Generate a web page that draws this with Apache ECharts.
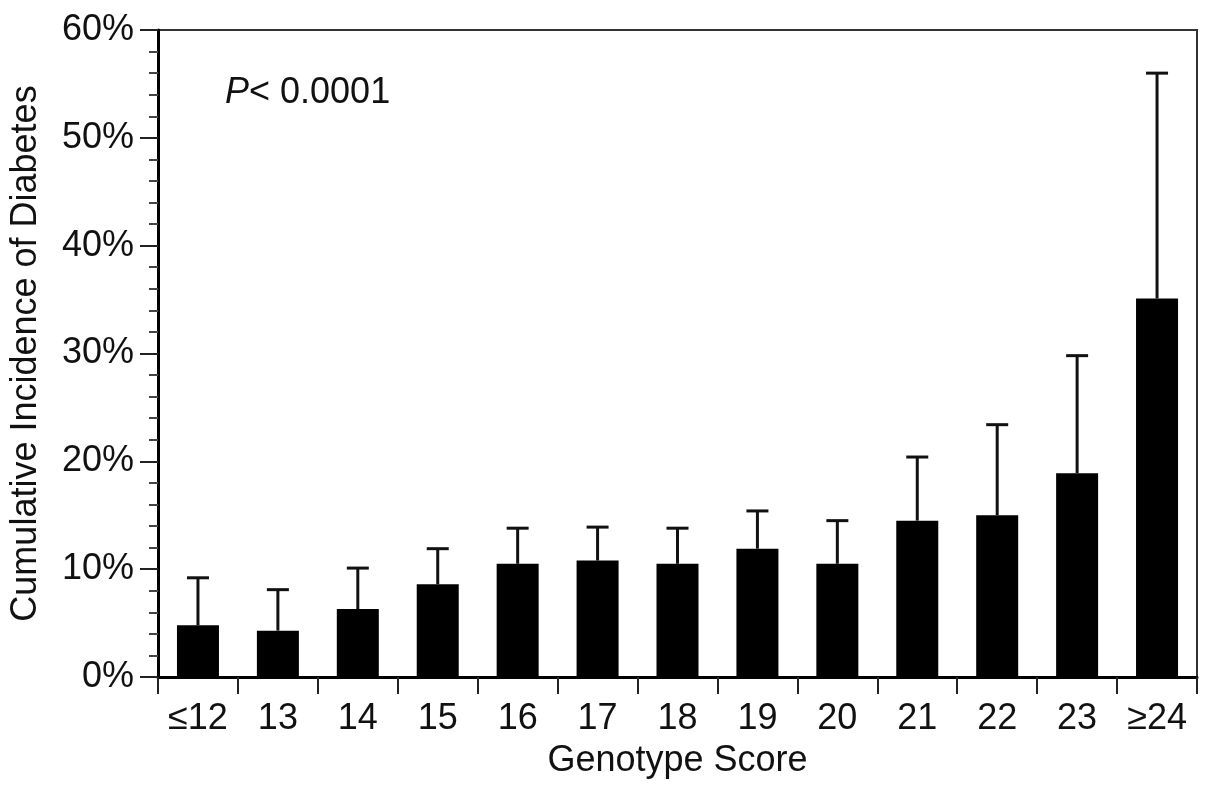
<!DOCTYPE html>
<html>
<head>
<meta charset="utf-8">
<script src="https://cdn.jsdelivr.net/npm/echarts@6/dist/echarts.min.js"></script>
<style>
  html, body { margin: 0; padding: 0; background: #fff; }
  #chart { width: 1207px; height: 788px; }
</style>
</head>
<body>
<div id="chart"></div>
<script>
'use strict';
// genotype score groups
const categories = ['≤12', '13', '14', '15', '16', '17', '18', '19', '20', '21', '22', '23', '≥24'];
// cumulative incidence (%)
const incidence = [4.8, 4.3, 6.3, 8.6, 10.5, 10.8, 10.5, 11.9, 10.5, 14.5, 15.0, 18.9, 35.1];
// upper end of the error bars (%)
const upperBound = [9.2, 8.1, 10.1, 11.9, 13.8, 13.9, 13.8, 15.4, 14.5, 20.4, 23.4, 29.8, 56.0];
const yTicks = [0, 10, 20, 30, 40, 50, 60];

{
    let dom = document.getElementById('chart');
    let myChart = echarts.init(dom);
    const font = 'Liberation Sans, Arial, Helvetica, sans-serif';

    let errData = categories.map(function (c, i) {
        return [i, incidence[i], upperBound[i]];
    });

    let option = {
        animation: false,
        backgroundColor: '#fff',
        textStyle: { fontFamily: font, color: '#111' },
        title: {
            text: '{i|P}< 0.0001',
            left: 220,
            top: 70,
            textStyle: {
                fontFamily: font,
                fontSize: 36,
                fontWeight: 'normal',
                color: '#111',
                rich: {
                    i: { fontFamily: font, fontSize: 36, fontStyle: 'italic', color: '#111' }
                }
            }
        },
        grid: {
            left: 158,
            right: 10,
            top: 30,
            bottom: 111,
            show: true,
            borderColor: '#333',
            borderWidth: 2,
            backgroundColor: 'transparent'
        },
        xAxis: {
            type: 'category',
            data: categories,
            name: 'Genotype Score',
            nameLocation: 'middle',
            nameGap: 66,
            nameTextStyle: { fontFamily: font, fontSize: 36, color: '#111' },
            axisLine: { lineStyle: { color: '#000', width: 3 } },
            axisTick: { show: true, length: 17, lineStyle: { color: '#222', width: 2 } },
            axisLabel: { fontFamily: font, fontSize: 36, color: '#111', margin: 24 },
            splitLine: { show: false }
        },
        yAxis: {
            type: 'value',
            min: yTicks[0],
            max: yTicks[yTicks.length - 1],
            interval: 10,
            name: 'Cumulative Incidence of Diabetes',
            nameLocation: 'middle',
            nameGap: 114,
            nameTextStyle: { fontFamily: font, fontSize: 36, color: '#111' },
            axisLine: { show: true, lineStyle: { color: '#000', width: 3 } },
            axisTick: { show: true, length: 18, lineStyle: { color: '#222', width: 2 } },
            minorTick: { show: true, splitNumber: 5, length: 9, lineStyle: { color: '#444', width: 2 } },
            axisLabel: {
                fontFamily: font, fontSize: 36, color: '#111', margin: 24,
                formatter: '{value}%'
            },
            splitLine: { show: false }
        },
        series: [{
            name: 'Incidence',
            type: 'bar',
            data: incidence,
            barWidth: 42,
            itemStyle: { color: '#000' },
            z: 2
        }, {
            name: 'Error',
            type: 'custom',
            data: errData,
            z: 3,
            renderItem: function (params, api) {
                let base = api.coord([api.value(0), api.value(1)]);
                let top = api.coord([api.value(0), api.value(2)]);
                let half = 11;
                return {
                    type: 'group',
                    children: [{
                        type: 'line',
                        shape: { x1: base[0], y1: base[1], x2: top[0], y2: top[1] },
                        style: { stroke: '#111', lineWidth: 3 }
                    }, {
                        type: 'line',
                        shape: { x1: top[0] - half, y1: top[1], x2: top[0] + half, y2: top[1] },
                        style: { stroke: '#111', lineWidth: 3 }
                    }]
                };
            }
        }]
    };

    myChart.setOption(option, true);
}
</script>
</body>
</html>
